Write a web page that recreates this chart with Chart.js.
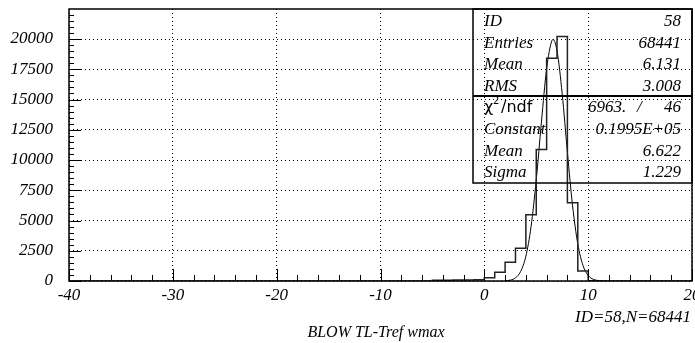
<!DOCTYPE html>
<html>
<head>
<meta charset="utf-8">
<script src="https://cdn.jsdelivr.net/npm/chart.js@4/dist/chart.umd.min.js"></script>
<style>
  html, body { margin: 0; padding: 0; background: #fff; }
  canvas { display: block; }
</style>
</head>
<body>
<canvas id="histo" width="695" height="343"></canvas>
<script>
// histogram bins (low edge, 1 unit wide)
const binLow = [-5, -4, -3, -2, -1, 0, 1, 2, 3, 4, 5, 6, 7, 8, 9, 10];
const binCounts = [60, 70, 80, 90, 100, 260, 720, 1550, 2700, 5470, 10860, 18410, 20200, 6470, 830, 20];

// gaussian fit curve
const fitX = [2, 2.5, 3, 3.5, 4, 4.5, 5, 5.5, 6, 6.5, 6.62, 7, 7.5, 8, 8.5, 9, 9.5, 10, 10.5, 11, 11.5];
const fitY = [17, 72, 259, 793, 2049, 4493, 8351, 13151, 17552, 19852, 19950, 19029, 15457, 10642, 6207, 3068, 1286, 457, 137, 35, 8];

const xTicks = [-40, -30, -20, -10, 0, 10, 20];
const yTicks = [0, 2500, 5000, 7500, 10000, 12500, 15000, 17500, 20000];

const statLabels = ['ID', 'Entries', 'Mean', 'RMS'];
const statValues = ['58', '68441', '6.131', '3.008'];
const fitLabels = ['Constant', 'Mean', 'Sigma'];
const fitValues = ['0.1995E+05', '6.622', '1.229'];
const chi2 = ['6963.', '/', '46'];

const histTitle = 'BLOW TL-Tref wmax';
const histInfo = 'ID=58,N=68441';

const serif = '"Liberation Serif", "Times New Roman", serif';

// step points: start on the baseline, hold each bin value to the next edge
const histPoints = [{ x: -40, y: 0 }];
binLow.forEach((lo, i) => histPoints.push({ x: lo, y: binCounts[i] }));
histPoints.push({ x: binLow[binLow.length - 1] + 1, y: 0 });
histPoints.push({ x: 20, y: 0 });

const fitPoints = fitX.map((x, i) => ({ x: x, y: fitY[i] }));

// frame, tick marks, stats box and captions
const decor = {
  id: 'decor',
  afterDatasetsDraw(chart) {
    const { ctx, chartArea: a, scales } = chart;
    const xs = scales.x, ys = scales.y;
    ctx.save();
    ctx.strokeStyle = '#000';
    ctx.lineWidth = 1.5;
    ctx.strokeRect(a.left, a.top, a.right - a.left, a.bottom - a.top);

    ctx.lineWidth = 1;
    ctx.beginPath();
    for (let v = -40; v <= 20; v += 2) {
      const px = Math.round(xs.getPixelForValue(v)) + 0.5;
      const len = v % 10 === 0 ? 12 : 6;
      ctx.moveTo(px, a.bottom);
      ctx.lineTo(px, a.bottom - len);
    }
    for (let v = 0; v <= 22000; v += 500) {
      const py = Math.round(ys.getPixelForValue(v)) + 0.5;
      const len = v % 2500 === 0 ? 12 : 5;
      ctx.moveTo(a.left, py);
      ctx.lineTo(a.left + len, py);
    }
    ctx.stroke();

    // stats box
    const bx = 473, bTop = a.top, bRight = a.right, bMid = 96, bBot = 183;
    ctx.lineWidth = 1.5;
    ctx.strokeRect(bx, bTop, bRight - bx, bBot - bTop);
    ctx.lineWidth = 2;
    ctx.beginPath();
    ctx.moveTo(bx, bMid);
    ctx.lineTo(bRight, bMid);
    ctx.stroke();

    ctx.fillStyle = '#000';
    ctx.font = 'italic 17px ' + serif;
    const rows = [26, 47.6, 69.2, 90.8];
    statLabels.forEach((t, i) => {
      ctx.textAlign = 'left';
      ctx.fillText(t, 484, rows[i]);
      ctx.textAlign = 'right';
      ctx.fillText(statValues[i], 681, rows[i]);
    });
    const rows2 = [134, 155.6, 177.2];
    fitLabels.forEach((t, i) => {
      ctx.textAlign = 'left';
      ctx.fillText(t, 484, rows2[i]);
      ctx.textAlign = 'right';
      ctx.fillText(fitValues[i], 681, rows2[i]);
    });

    // chi2 / ndf row
    ctx.textAlign = 'left';
    ctx.font = '16px "DejaVu Sans", sans-serif';
    ctx.fillText('\u03c7', 484, 112.4);
    ctx.font = '10px "DejaVu Sans", sans-serif';
    ctx.fillText('2', 493, 104);
    ctx.font = '16px "DejaVu Sans", sans-serif';
    ctx.fillText('/ndf', 501, 112.4);
    ctx.font = 'italic 17px ' + serif;
    ctx.fillText(chi2[0], 588, 112.4);
    ctx.fillText(chi2[1], 637, 112.4);
    ctx.textAlign = 'right';
    ctx.fillText(chi2[2], 681, 112.4);

    // captions under the axis
    ctx.textAlign = 'right';
    ctx.fillText(histInfo, 691, 322);
    ctx.font = 'italic 16px ' + serif;
    ctx.textAlign = 'center';
    ctx.fillText(histTitle, 376, 337);
    ctx.restore();
  }
};

const ctx = document.getElementById('histo').getContext('2d');
new Chart(ctx, {
  type: 'line',
  data: {
    datasets: [
      {
        label: 'histogram',
        data: histPoints,
        stepped: 'before',
        borderColor: '#222',
        borderWidth: 1.5,
        pointRadius: 0,
        fill: false
      },
      {
        label: 'fit',
        data: fitPoints,
        borderColor: '#000',
        borderWidth: 1,
        pointRadius: 0,
        cubicInterpolationMode: 'monotone',
        fill: false
      }
    ]
  },
  options: {
    responsive: false,
    animation: false,
    layout: { padding: { left: 0, right: 3, top: 9, bottom: 0 } },
    plugins: { legend: { display: false }, tooltip: { enabled: false } },
    scales: {
      x: {
        type: 'linear',
        min: -40,
        max: 20,
        afterFit: s => { s.height = 62; s.paddingLeft = 0; s.paddingRight = 0; },
        afterBuildTicks: s => { s.ticks = xTicks.map(v => ({ value: v })); },
        grid: { color: '#000', lineWidth: 1, drawTicks: false },
        border: { display: false, dash: [1, 3] },
        ticks: {
          padding: 4,
          maxRotation: 0,
          color: '#000',
          callback: v => String(v),
          font: { family: serif, style: 'italic', size: 17 }
        }
      },
      y: {
        type: 'linear',
        min: 0,
        max: 22480,
        afterFit: s => { s.width = 69; s.paddingTop = 0; s.paddingBottom = 0; },
        afterBuildTicks: s => { s.ticks = yTicks.map(v => ({ value: v })); },
        grid: { color: '#000', lineWidth: 1, drawTicks: false },
        border: { display: false, dash: [1, 3] },
        ticks: {
          padding: 16,
          color: '#000',
          callback: v => String(v),
          font: { family: serif, style: 'italic', size: 17 }
        }
      }
    }
  },
  plugins: [decor]
});
</script>
</body>
</html>
